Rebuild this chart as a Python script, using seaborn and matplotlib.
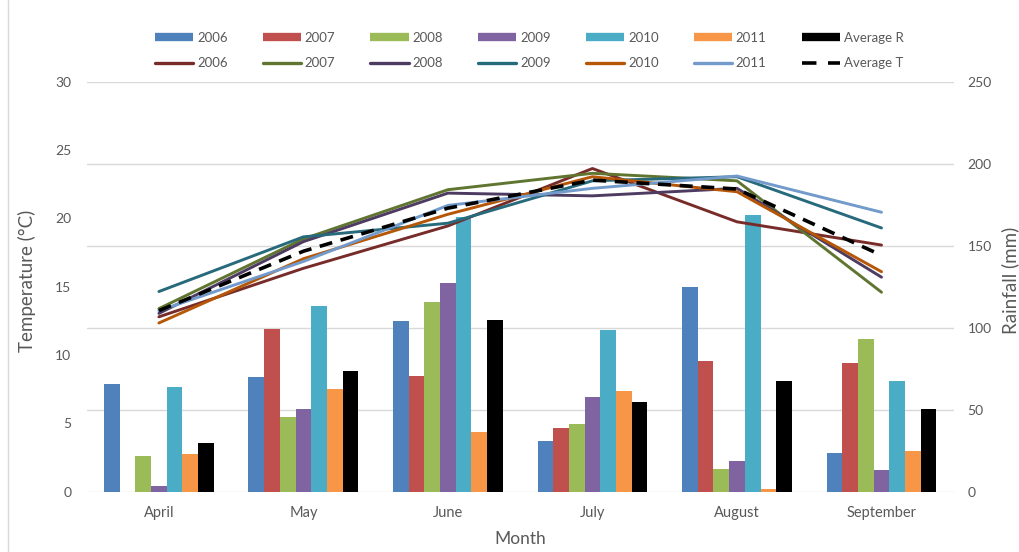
import numpy as np
import pandas as pd
import matplotlib
matplotlib.use("Agg")
import matplotlib.pyplot as plt
from matplotlib.lines import Line2D
import seaborn as sns

# ---- data -------------------------------------------------------------
months = ["April", "May", "June", "July", "August", "September"]
years = ["2006", "2007", "2008", "2009", "2010", "2011"]

# monthly rainfall (mm)
rain_2006 = [66.0, 69.9, 104.1, 30.8, 124.9, 23.7]
rain_2007 = [0.0, 99.4, 70.9, 38.7, 79.6, 78.8]
rain_2008 = [22.0, 45.9, 115.7, 41.6, 13.7, 93.4]
rain_2009 = [3.5, 50.3, 127.3, 58.0, 18.8, 13.1]
rain_2010 = [63.6, 113.3, 167.6, 98.9, 168.6, 67.6]
rain_2011 = [23.0, 62.5, 36.5, 61.5, 1.5, 24.9]
rain_avg = [29.5, 73.8, 104.6, 54.8, 67.6, 50.3]

# monthly mean temperature (°C)
temp_2006 = [12.8, 16.35, 19.45, 23.65, 19.75, 18.05]
temp_2007 = [13.4, 18.5, 22.1, 23.3, 22.75, 14.6]
temp_2008 = [13.05, 18.3, 21.85, 21.65, 22.2, 15.7]
temp_2009 = [14.65, 18.65, 19.65, 22.75, 23.05, 19.3]
temp_2010 = [12.35, 17.05, 20.3, 23.05, 21.95, 16.1]
temp_2011 = [13.25, 16.85, 20.95, 22.2, 23.1, 20.45]
temp_avg = [13.25, 17.6, 20.75, 22.8, 22.15, 17.3]

rain_series = [rain_2006, rain_2007, rain_2008, rain_2009, rain_2010, rain_2011, rain_avg]
temp_series = [temp_2006, temp_2007, temp_2008, temp_2009, temp_2010, temp_2011]
rain_labels = years + ["Average R"]
temp_labels = years + ["Average T"]

bar_colors = ["#4F81BD", "#C0504D", "#9BBB59", "#8064A2", "#4BACC6", "#F79646", "#000000"]
line_colors = ["#772C2A", "#5F7530", "#4D3B62", "#276A7C", "#B65708", "#729ACA"]

rain_df = pd.DataFrame({
    "Month": np.repeat([months], len(rain_series), axis=0).ravel(),
    "Series": np.repeat(rain_labels, len(months)),
    "Rainfall": np.concatenate(rain_series),
})
temp_df = pd.DataFrame({
    "pos": np.tile(np.arange(len(months)), len(temp_series)),
    "Series": np.repeat(["T" + y for y in years], len(months)),
    "Temperature": np.concatenate(temp_series),
})

# ---- style ------------------------------------------------------------
sns.set_style("white")
plt.rcParams["font.family"] = ["Lato", "DejaVu Sans"]
grey_text = "#595959"
grid_grey = "#D9D9D9"

fig = plt.figure(figsize=(10.19, 5.52), dpi=100)
fig.patch.set_facecolor("white")
ax = fig.add_subplot(111)
fig.subplots_adjust(left=0.085, right=0.936, top=0.852, bottom=0.109)
ax2 = ax.twinx()

# rainfall bars on the right-hand axis
sns.barplot(data=rain_df, x="Month", y="Rainfall", hue="Series",
            order=months, hue_order=rain_labels,
            palette=dict(zip(rain_labels, bar_colors)),
            width=0.76, gap=0, saturation=1, linewidth=0,
            legend=False, ax=ax2)

# temperature lines on the left-hand axis, drawn above the bars
ax.set_zorder(ax2.get_zorder() + 1)
ax.patch.set_visible(False)
sns.lineplot(data=temp_df, x="pos", y="Temperature", hue="Series",
             palette=dict(zip(["T" + y for y in years], line_colors)),
             linewidth=2.1, legend=False, sort=False, ax=ax)
sns.lineplot(x=np.arange(len(months)), y=temp_avg, color="black",
             linewidth=2.6, dashes=False, ax=ax)
ax.lines[-1].set_dashes((3.6, 2.4))

# ---- axes -------------------------------------------------------------
ax.set_xlim(-0.5, len(months) - 0.5)
ax.set_ylim(0, 30)
ax2.set_ylim(0, 250)
ax.set_yticks(np.arange(0, 31, 5))
ax2.set_yticks(np.arange(0, 251, 50))
ax.set_xticks(np.arange(len(months)))
ax.set_xticklabels(months)

ax2.yaxis.grid(True, color=grid_grey, linewidth=1.0)
ax2.set_axisbelow(True)
ax.grid(False)
ax2.xaxis.grid(False)

for a in (ax, ax2):
    for s in a.spines.values():
        s.set_visible(False)
ax.tick_params(axis="both", length=0, colors=grey_text, labelsize=10)
ax.tick_params(axis="y", pad=11)
ax.tick_params(axis="x", pad=10, labelsize=10.5)
ax2.tick_params(axis="y", length=0, colors=grey_text, labelsize=10, pad=10)

ax.set_xlabel("Month", color=grey_text, fontsize=12.5, labelpad=8)
ax.set_ylabel("Temperature (°C)", color=grey_text, fontsize=13.5)
ax2.set_ylabel("Rainfall (mm)", color=grey_text, fontsize=13.5)
ax.yaxis.set_label_coords(-0.058, 0.515)
ax2.yaxis.set_label_coords(1.0545, 0.515)

# ---- legend -----------------------------------------------------------
handles, labels = [], []
for i in range(7):
    handles.append(Line2D([0], [0], color=bar_colors[i], linewidth=6,
                          solid_capstyle="butt"))
    labels.append(rain_labels[i])
    if i < 6:
        handles.append(Line2D([0], [0], color=line_colors[i], linewidth=2.4,
                              solid_capstyle="round"))
    else:
        handles.append(Line2D([0], [0], color="black", linewidth=2.6,
                              dashes=(4, 3.2)))
    labels.append(temp_labels[i])

leg = fig.legend(handles, labels, ncol=7, loc="center left",
                 bbox_to_anchor=(0.152, 1 - 50.5 / 552), frameon=False,
                 fontsize=9.5, handlelength=2.9, handletextpad=0.3,
                 columnspacing=2.65, labelspacing=1.05, borderpad=0,
                 borderaxespad=0)
for t in leg.get_texts():
    t.set_color(grey_text)

# chart frame on the left
fig.add_artist(Line2D([8 / 1019, 8 / 1019], [0, 1], color=grid_grey,
                      linewidth=1.0, transform=fig.transFigure))

fig.savefig("out.png", dpi=100, facecolor="white")
